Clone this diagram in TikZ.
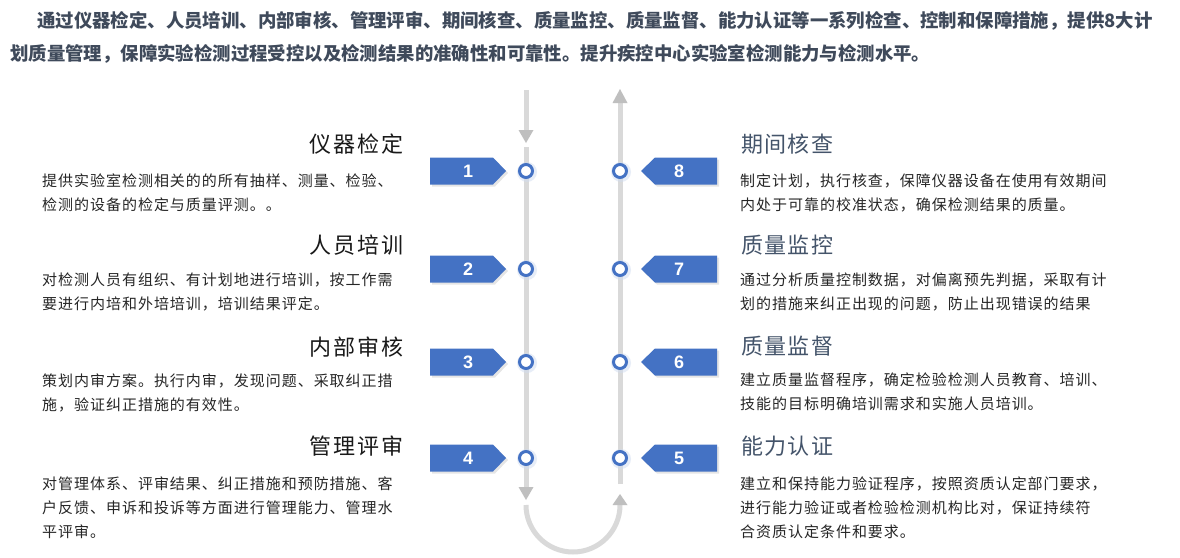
\documentclass[tikz,border=0pt]{standalone}
\usepackage{fontspec}
\setmainfont{Noto Sans CJK SC}
\newfontfamily\badgefont{Liberation Sans}
\usetikzlibrary{calc}
\definecolor{qblue}{HTML}{4472C4}
\definecolor{qline}{HTML}{D9D9D9}
\definecolor{qarrow}{HTML}{BFBFBF}
\definecolor{qhead}{HTML}{3F4A5B}
\definecolor{qslate}{HTML}{44546A}
\definecolor{qbody}{HTML}{262626}
\tikzset{
  toptext/.style={anchor=west, inner sep=0, text=qhead,
    font=\fontsize{18.4pt}{22pt}\selectfont\bfseries},
  lhead/.style={anchor=east, inner sep=0, text=black!90,
    font=\fontsize{22pt}{26pt}\selectfont\addfontfeature{LetterSpace=10}},
  rhead/.style={anchor=west, inner sep=0, text=qslate,
    font=\fontsize{22pt}{26pt}\selectfont\addfontfeature{LetterSpace=6}},
  bodytext/.style={anchor=north west, inner sep=0, align=left, text=qbody,
    font=\fontsize{15pt}{24pt}\selectfont\addfontfeature{LetterSpace=6.5}},
  badgetext/.style={inner sep=0, text=white, font=\badgefont\bfseries\fontsize{18pt}{20pt}\selectfont},
  dot/.style={circle, draw=qblue, line width=3pt, fill=white, minimum size=13pt, inner sep=0},
  glow/.style={circle, fill=qblue!25, opacity=0.5, minimum size=20pt, inner sep=0},
  flowline/.style={draw=qline, line width=5pt},
  tip/.style={fill=qarrow},
  badge/.style={fill=qblue},
  badgeshadow/.style={fill=black, opacity=0.10}
}
\begin{document}
\begin{tikzpicture}[x=1pt,y=-1pt]
\useasboundingbox (0,0) rectangle (1180,557);
\fill[white] (0,0) rectangle (1180,557);

% header paragraph
\node[toptext] (t1) at (37,21) {通过仪器检定、人员培训、内部审核、管理评审、期间核查、质量监控、质量监督、能力认证等一系列检查、控制和保障措施，提供8大计};
\node[toptext] (t2) at (10,54) {划质量管理，保障实验检测过程受控以及检测结果的准确性和可靠性。提升疾控中心实验室检测能力与检测水平。};

% flow line coordinates
\coordinate (La) at (526,90);
\coordinate (Lb) at (526,130);
\coordinate (Lc) at (526,147);
\coordinate (Ld) at (526,487);
\coordinate (Le) at (526,505);
\coordinate (Ra) at (620,505);
\coordinate (Rb) at (620,484);
\coordinate (Rc) at (620,103);

\draw[flowline] (La) -- (Lb);
\draw[flowline] (Lc) -- (Ld);
\draw[flowline] (Le) .. controls (526,531) and (547,552) .. (573,552) .. controls (599,552) and (620,531) .. (Ra);
\draw[flowline] (Rb) -- (Rc);

% arrowheads
\fill[tip] ($(Lb)+(-7.5,0)$) -- ($(Lb)+(7.5,0)$) -- ($(Lb)+(0,13)$) -- cycle;
\fill[tip] ($(Ld)+(-7.5,0)$) -- ($(Ld)+(7.5,0)$) -- ($(Ld)+(0,13)$) -- cycle;
\fill[tip] ($(Ra)+(-7.5,0)$) -- ($(Ra)+(7.5,0)$) -- ($(Ra)+(0,-11)$) -- cycle;
\fill[tip] ($(Rc)+(-7.5,0)$) -- ($(Rc)+(7.5,0)$) -- ($(Rc)+(0,-14)$) -- cycle;

% left badges and dots
\foreach \n/\y in {1/171,2/269,3/362,4/458}{
  \fill[badgeshadow] (432,{\y-11.5}) -- (495,{\y-11.5}) -- (508,{\y+2}) -- (495,{\y+15.5}) -- (432,{\y+15.5}) -- cycle;
  \fill[badge] (430,{\y-13.5}) -- (493,{\y-13.5}) -- (506,\y) -- (493,{\y+13.5}) -- (430,{\y+13.5}) -- cycle;
  \node[badgetext] (nl\n) at (468,\y) {\n};
  \node[glow] at (527,{\y+1}) {};
  \node[dot] (cl\n) at (526,\y) {};
}
% right badges and dots
\foreach \n/\y in {8/171,7/269,6/362,5/458}{
  \fill[badgeshadow] (643,{\y+2}) -- (657,{\y-11.5}) -- (719,{\y-11.5}) -- (719,{\y+15.5}) -- (657,{\y+15.5}) -- cycle;
  \fill[badge] (641,\y) -- (655,{\y-13.5}) -- (717,{\y-13.5}) -- (717,{\y+13.5}) -- (655,{\y+13.5}) -- cycle;
  \node[badgetext] (nr\n) at (679,\y) {\n};
  \node[glow] at (621,{\y+1}) {};
  \node[dot] (cr\n) at (620,\y) {};
}

% left headings and texts
\node[lhead] (h1) at (404,144) {仪器检定};
\node[bodytext] (b1) at (42,174) {提供实验室检测相关的的所有抽样、测量、检验、\\检测的设备的检定与质量评测。。};
\node[lhead] (h2) at (404,245) {人员培训};
\node[bodytext] (b2) at (42,273) {对检测人员有组织、有计划地进行培训，按工作需\\要进行内培和外培培训，培训结果评定。};
\node[lhead] (h3) at (404,347) {内部审核};
\node[bodytext] (b3) at (42,374) {策划内审方案。执行内审，发现问题、采取纠正措\\施，验证纠正措施的有效性。};
\node[lhead] (h4) at (404,446) {管理评审};
\node[bodytext] (b4) at (42,477) {对管理体系、评审结果、纠正措施和预防措施、客\\户反馈、申诉和投诉等方面进行管理能力、管理水\\平评审。};

% right headings and texts
\node[rhead] (h8) at (741,144) {期间核查};
\node[bodytext] (b8) at (740,174) {制定计划，执行核查，保障仪器设备在使用有效期间\\内处于可靠的校准状态，确保检测结果的质量。};
\node[rhead] (h7) at (741,245) {质量监控};
\node[bodytext] (b7) at (740,273) {通过分析质量控制数据，对偏离预先判据，采取有计\\划的措施来纠正出现的问题，防止出现错误的结果};
\node[rhead] (h6) at (741,346) {质量监督};
\node[bodytext] (b6) at (740,373) {建立质量监督程序，确定检验检测人员教育、培训、\\技能的目标明确培训需求和实施人员培训。};
\node[rhead] (h5) at (741,446) {能力认证};
\node[bodytext] (b5) at (740,477) {建立和保持能力验证程序，按照资质认定部门要求，\\进行能力验证或者检验检测机构比对，保证持续符\\合资质认定条件和要求。};
\end{tikzpicture}
\end{document}
